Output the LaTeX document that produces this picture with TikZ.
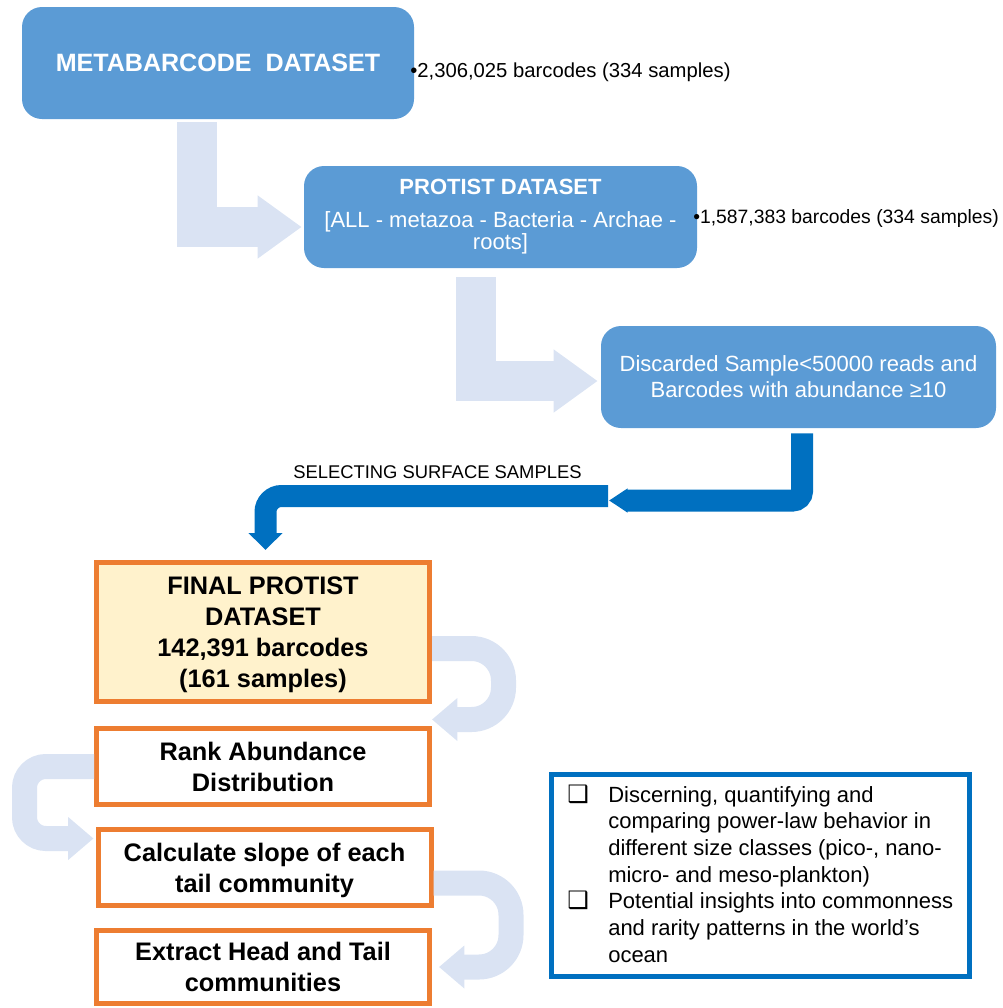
\documentclass[tikz,border=0pt]{standalone}
\usepackage{fontspec}
\setmainfont{Liberation Sans}
\newfontfamily\symfont{DejaVu Sans}
\usepackage{tikz}
\usetikzlibrary{
  calc,        % Offsets from node anchors
  arrows.meta  % Wide block arrow heads
}

\definecolor{boxblue}{RGB}{91,155,213}
\definecolor{paleblue}{RGB}{218,227,243}
\definecolor{deepblue}{RGB}{0,112,192}
\definecolor{edgeorange}{RGB}{237,125,49}
\definecolor{cream}{RGB}{255,242,204}

\tikzset{
  stagebox/.style={rounded corners=15pt, fill=boxblue, text=white, inner sep=0pt, align=center},
  stepbox/.style={draw=edgeorange, line width=3.75pt, fill=white, inner sep=0pt, align=center,
    minimum width=249.75pt, text depth=0pt, font=\fontsize{19}{23.25}\selectfont\bfseries},
  countnote/.style={anchor=base west, inner sep=0pt},
  flowarrow/.style={paleblue, line width=30pt, -{Triangle[length=33pt, width=45pt]}},
  looparrow/.style={paleblue, line width=18.75pt, -{Triangle[length=19pt, width=31pt]}},
  jumparrow/.style={deepblue, line width=16.5pt}
}

\begin{document}
\begin{tikzpicture}[x=0.75pt, y=-0.75pt]
            \useasboundingbox (0,0) rectangle (1003,1008);

            % Blue data set boxes
            \node[stagebox, minimum width=294pt, minimum height=84pt,
              font=\fontsize{18.8}{21}\selectfont\bfseries] (meta) at (218,63) {METABARCODE~~DATASET};
            \node[stagebox, minimum width=294.75pt, minimum height=76.5pt,
              font=\fontsize{16.5}{16.5}\selectfont] (protist) at (500.5,217)
              {\textbf{PROTIST DATASET}\\[8.25pt]{[}ALL - metazoa - Bacteria - Archae -\\roots]};
            \node[stagebox, minimum width=296.25pt, minimum height=76.5pt,
              font=\fontsize{16.5}{19.5}\selectfont] (discarded) at (798.5,377)
              {Discarded Sample<50000 reads and\\Barcodes with abundance ≥10};

            % Barcode counts beside the boxes
            \node[countnote, font=\fontsize{15.2}{18}\selectfont] (metacount) at (410,77) {•2,306,025 barcodes (334 samples)};
            \node[countnote, font=\fontsize{14.5}{17}\selectfont] (protistcount) at (693,223) {•1,587,383 barcodes (334 samples)};

            % Pale bent arrows between the blue boxes
            \draw[flowarrow] ($(meta.south)+(-21,3)$) |- ($(protist.west)+(-2,10)$);
            \draw[flowarrow] ($(protist.south)+(-24.5,9)$) |- ($(discarded.west)+(-3,4)$);

            % Orange analysis steps
            \node[stepbox, fill=cream, minimum height=104.25pt] (final) at (263,632)
              {FINAL PROTIST\\DATASET\\142,391 barcodes\\(161 samples)};
            \node[stepbox, minimum height=57pt] (rank) at (263,766.5) {Rank Abundance\\Distribution};
            \node[stepbox, minimum height=57pt] (slope) at (264.5,867.5) {Calculate slope of each\\tail community};
            \node[stepbox, minimum height=55pt] (extract) at (263,967) {Extract Head and Tail\\communities};

            % Dark blue arrow: surface samples only
            \coordinate (notch) at (608,496);
            \draw[jumparrow, rounded corners=7pt, -{Triangle[length=14pt, width=17.25pt]}]
              ($(discarded.south)+(3.5,5)$) |- (609,500.5);
            \draw[jumparrow, rounded corners=12pt, -{Triangle[length=12.75pt, width=24.75pt]}]
              (notch) -| ($(final.north)+(2.5,-10)$);
            \node[countnote, font=\fontsize{13.8}{16}\selectfont] (select) at (293,478) {SELECTING SURFACE SAMPLES};

            % Pale U-turn arrows down the steps
            \draw[looparrow, rounded corners=24pt] ($(final.east)+(0,16.5)$) -- ++(71.5,0) -- ++(0,71)
              -- ($(rank.north east)+(0,-6.5)$);
            \draw[looparrow, rounded corners=16pt] (rank.west) -- ++(-69.5,0) -- ++(0,72)
              -- ($(slope.north west)+(-2,11.5)$);
            \draw[looparrow, rounded corners=24pt] ($(slope.east)+(0,15.5)$) -- ++(77.5,0) -- ++(0,84)
              -- ($(extract.east)+(7,0)$);

            % Outcome box
            \node[draw=deepblue, line width=3.75pt, minimum width=313.5pt, minimum height=151.5pt,
              inner sep=0pt] (insight) at (760.5,875.5) {};
            \node[countnote, font=\fontsize{16.5}{20}\selectfont] (insighttext) at (567,802) {\parbox[t]{300pt}{%
              \makebox[30.75pt][l]{\symfont\fontsize{18}{20}\selectfont ❑}Discerning, quantifying and\\
              \hspace*{30.75pt}comparing power-law behavior in\\
              \hspace*{30.75pt}different size classes (pico-, nano-\\
              \hspace*{30.75pt}micro- and meso-plankton)\\
              \makebox[30.75pt][l]{\symfont\fontsize{18}{20}\selectfont ❑}Potential insights into commonness\\
              \hspace*{30.75pt}and rarity patterns in the world’s\\
              \hspace*{30.75pt}ocean}};
        \end{tikzpicture}
\end{document}
